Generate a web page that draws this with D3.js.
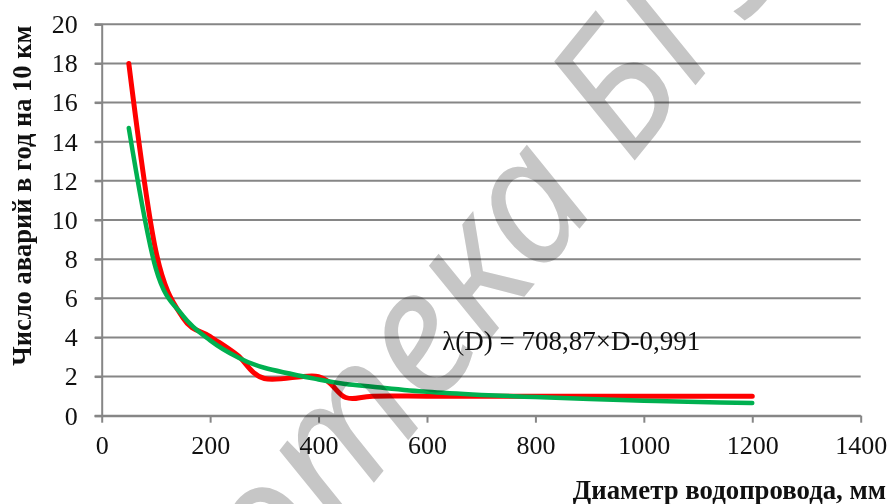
<!DOCTYPE html>
<html>
<head>
<meta charset="utf-8">
<script src="https://cdn.jsdelivr.net/npm/d3@7"></script>
<style>
  body { margin: 0; background: #fff; }
  svg { display: block; }
</style>
</head>
<body>
<div id="chart"></div>
<script>
// diameters, mm
const diam = [50, 100, 150, 200, 250, 300, 400, 450, 500, 600, 700, 800, 900, 1000, 1100, 1200]
// observed failures per year per 10 km
const observed = [18, 8.4, 5.0, 4.05, 3.1, 1.9, 2.0, 0.93, 1.0, 1.0, 1.0, 1.0, 1.0, 1.0, 1.0, 1.0]
// fitted curve
const fitted = [14.7, 7.5, 5.1, 3.85, 3.0, 2.45, 1.85, 1.62, 1.48, 1.22, 1.06, 0.95, 0.85, 0.77, 0.7, 0.65]

const xTicks = [0, 200, 400, 600, 800, 1000, 1200, 1400]
const yTicks = [0, 2, 4, 6, 8, 10, 12, 14, 16, 18, 20]

const width = 891
const height = 504
const margins = { top: 24.3, right: 30.3, bottom: 88.3, left: 101.7 }

const svg = d3.select('#chart').append('svg')
    .attr('width', width)
    .attr('height', height)

const xScale = d3.scaleLinear()
    .domain([0, 1400])
    .range([margins.left, width - margins.right])

const yScale = d3.scaleLinear()
    .domain([0, 20])
    .range([height - margins.bottom, margins.top])

const gridColor = '#868686'
const serif = '"Liberation Serif", "Times New Roman", serif'

// horizontal grid lines (they also act as the y tick marks)
svg.append('g')
    .attr('class', 'grid-lines')
    .selectAll('line')
    .data(yTicks)
    .join('line')
    .attr('x1', margins.left - 7)
    .attr('x2', width - margins.right)
    .attr('y1', d => yScale(d))
    .attr('y2', d => yScale(d))
    .attr('stroke', gridColor)
    .attr('stroke-width', 2)

// y axis
const yAxis = svg.append('g')
    .attr('class', 'y-axis')
    .attr('transform', `translate(${margins.left},0)`)
    .call(d3.axisLeft(yScale).tickValues(yTicks).tickSize(7).tickPadding(17))
yAxis.select('.domain').attr('stroke', gridColor).attr('stroke-width', 2)
yAxis.selectAll('.tick line').attr('stroke', gridColor).attr('stroke-width', 2)
yAxis.selectAll('text')
    .attr('font-family', serif)
    .attr('font-size', 26)
    .attr('fill', '#111')

// x axis
const xAxis = svg.append('g')
    .attr('class', 'x-axis')
    .attr('transform', `translate(0,${yScale(0)})`)
    .call(d3.axisBottom(xScale).tickValues(xTicks).tickFormat(d3.format('d'))
        .tickSize(7).tickSizeOuter(0).tickPadding(13))
xAxis.select('.domain').attr('stroke', gridColor).attr('stroke-width', 2)
xAxis.selectAll('.tick line').attr('stroke', gridColor).attr('stroke-width', 2)
xAxis.selectAll('text')
    .attr('font-family', serif)
    .attr('font-size', 26)
    .attr('fill', '#111')

// smoothed lines like the spreadsheet's
const lineFun = vals => d3.line()
    .x((d, i) => xScale(diam[i]))
    .y(d => yScale(d))
    .curve(d3.curveCardinal.tension(0))(vals)

svg.append('path')
    .attr('d', lineFun(observed))
    .attr('fill', 'none')
    .attr('stroke', '#ff0000')
    .attr('stroke-width', 5)
    .attr('stroke-linejoin', 'round')
    .attr('stroke-linecap', 'round')

svg.append('path')
    .attr('d', lineFun(fitted))
    .attr('fill', 'none')
    .attr('stroke', '#00b050')
    .attr('stroke-width', 4.5)
    .attr('stroke-linejoin', 'round')
    .attr('stroke-linecap', 'round')

// trend equation
svg.append('text')
    .attr('x', xScale(628))
    .attr('y', yScale(3.35))
    .attr('font-family', serif)
    .attr('font-size', 27)
    .attr('fill', '#111')
    .text('λ(D) = 708,87×D-0,991')

// axis titles
svg.append('text')
    .attr('transform', `translate(31,${(yScale(20) + 367) / 2}) rotate(-90)`)
    .attr('text-anchor', 'middle')
    .attr('font-family', serif)
    .attr('font-weight', 'bold')
    .attr('font-size', 26.5)
    .attr('fill', '#111')
    .text('Число аварий в год на 10 км')

svg.append('text')
    .attr('x', 886)
    .attr('y', 499)
    .attr('text-anchor', 'end')
    .attr('font-family', serif)
    .attr('font-weight', 'bold')
    .attr('font-size', 26.8)
    .attr('fill', '#111')
    .text('Диаметр водопровода, мм')

// library watermark laid over the chart
const wmAngle = -51
const wmSize = 175
const wm = svg.append('text')
    .attr('font-family', '"Noto Sans", sans-serif')
    .attr('font-style', 'italic')
    .attr('font-size', wmSize)
    .attr('fill', '#c6c6c6')
    .style('mix-blend-mode', 'multiply')
    .text('Библиотека БГЭУ')

// pin the "е" in "тека" near its spot in the picture
const p0 = wm.node().getStartPositionOfChar(7)
const p1 = wm.node().getEndPositionOfChar(7)
const cx = (p0.x + p1.x) / 2
const cy = p0.y - 0.27 * wmSize
const ang = wmAngle * Math.PI / 180
const rx = cx * Math.cos(ang) - cy * Math.sin(ang)
const ry = cx * Math.sin(ang) + cy * Math.cos(ang)
wm.attr('transform', `translate(${423 - rx},${347 - ry}) rotate(${wmAngle})`)
</script>
</body>
</html>
